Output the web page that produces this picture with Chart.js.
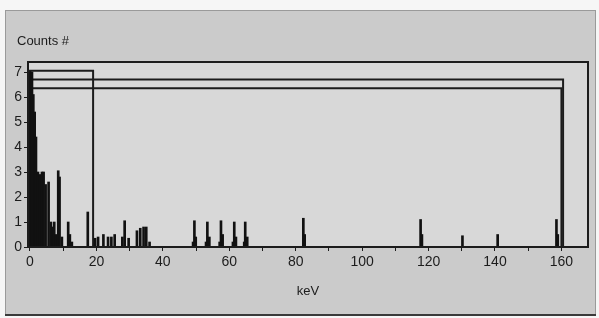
<!DOCTYPE html>
<html>
<head>
<meta charset="utf-8">
<script src="https://cdn.jsdelivr.net/npm/chart.js@4"></script>
<style>
  html, body { margin: 0; padding: 0; background: #f6f6f6; }
  #wrap { width: 599px; height: 318px; position: relative; }
</style>
</head>
<body>
<div id="wrap"><canvas id="canv"></canvas></div>
<script>
// spectrum lines (keV, counts)
const energies = [0.2, 0.6, 1.0, 1.4, 1.8, 2.4, 3.0, 3.6, 4.1, 4.7, 5.6, 6.3, 6.8, 7.3, 7.8, 8.5, 8.9, 9.6,
  11.5, 12.0, 12.6, 17.4, 19.6, 20.5, 22.1, 23.5, 24.5, 25.5, 27.8, 28.5, 29.7, 32.2, 33.2, 34.2, 35.0, 36.0,
  49.1, 49.5, 49.9, 53.0, 53.4, 54.0, 57.1, 57.5, 58.0, 61.1, 61.5, 62.0, 64.5, 64.8, 65.4,
  82.3, 82.7, 117.6, 118.0, 130.2, 140.8, 158.5, 158.9];
const counts = [7.0, 7.0, 6.1, 5.4, 4.4, 3.0, 2.9, 3.0, 3.0, 2.5, 2.6, 1.0, 0.8, 1.0, 0.5, 3.05, 2.8, 0.4,
  1.0, 0.5, 0.2, 1.4, 0.35, 0.4, 0.5, 0.4, 0.4, 0.5, 0.4, 1.05, 0.35, 0.65, 0.75, 0.8, 0.8, 0.2,
  0.2, 1.05, 0.4, 0.2, 1.0, 0.4, 0.2, 1.05, 0.5, 0.2, 1.0, 0.4, 0.2, 1.0, 0.4,
  1.15, 0.5, 1.1, 0.5, 0.45, 0.5, 1.1, 0.5];

// region-of-interest boxes
const roiSmallX = [0, 0, 19, 19];
const roiSmallY = [0, 7.05, 7.05, 0];
const roiWideX = [0, 0, 160.5, 160.5];
const roiWideY = [0, 6.7, 6.7, 0];
const roiInnerX = [0, 0, 160, 160];
const roiInnerY = [0, 6.35, 6.35, 0];

const xTicks = [0, 10, 20, 30, 40, 50, 60, 70, 80, 90, 100, 110, 120, 130, 140, 150, 160];
const yTicks = [0, 1, 2, 3, 4, 5, 6, 7];

const toPts = (xs, ys) => xs.map((x, i) => ({x: x, y: ys[i]}));
const ink = '#1c1c1c';
const font = 'Liberation Sans, Arial, sans-serif';

const panelPlugin = {
  id: 'panel',
  beforeDraw(chart) {
    const c = chart.ctx, a = chart.chartArea;
    c.save();
    c.fillStyle = '#f6f6f6';
    c.fillRect(0, 0, chart.width, chart.height);
    c.fillStyle = '#cbcbcb';
    c.fillRect(5, 10, 591, 306);
    c.strokeStyle = '#9a9a9a';
    c.lineWidth = 1;
    c.strokeRect(5.5, 10.5, 590, 305);
    c.fillStyle = '#3a3a3a';
    c.fillRect(5, 314, 591, 2);
    c.fillStyle = '#d8d8d8';
    c.fillRect(a.left, a.top, a.right - a.left, a.bottom - a.top);
    c.restore();
  },
  afterDraw(chart) {
    const c = chart.ctx, a = chart.chartArea;
    c.save();
    c.strokeStyle = ink;
    c.lineWidth = 2;
    c.strokeRect(a.left, a.top, a.right - a.left, a.bottom - a.top);
    c.fillStyle = ink;
    c.font = '13px ' + font;
    c.textBaseline = 'middle';
    c.fillText('Counts #', 17, 41);
    c.restore();
  }
};

const roi = (xs, ys) => ({
  type: 'line',
  data: toPts(xs, ys),
  borderColor: ink,
  borderWidth: 2,
  pointRadius: 0,
  tension: 0,
  fill: false
});

new Chart(document.getElementById('canv'), {
  type: 'bar',
  data: {
    datasets: [
      {
        type: 'bar',
        data: toPts(energies, counts),
        backgroundColor: '#111',
        barThickness: 2
      },
      roi(roiSmallX, roiSmallY),
      roi(roiWideX, roiWideY),
      roi(roiInnerX, roiInnerY)
    ]
  },
  options: {
    responsive: true,
    maintainAspectRatio: false,
    animation: false,
    layout: { padding: { top: 62, right: 11, left: 0, bottom: 0 } },
    plugins: { legend: { display: false }, tooltip: { enabled: false } },
    scales: {
      x: {
        type: 'linear',
        min: -0.6,
        max: 168,
        offset: false,
        afterBuildTicks: s => { s.ticks = xTicks.map(v => ({value: v})); },
        afterFit: s => { s.height = 71; },
        grid: { offset: false, drawOnChartArea: false, tickLength: 4, color: ink },
        border: { color: ink, width: 2 },
        ticks: {
          autoSkip: false, maxRotation: 0, padding: 3, color: ink,
          font: { family: font, size: 14 },
          callback: v => (v % 20 === 0 ? v : '')
        },
        title: {
          display: true, text: 'keV', color: ink,
          font: { family: font, size: 13 },
          padding: { top: 0, bottom: 19 }
        }
      },
      y: {
        min: 0,
        max: 7.4,
        afterBuildTicks: s => { s.ticks = yTicks.map(v => ({value: v})); },
        afterFit: s => { s.width = 28; },
        grid: { drawOnChartArea: false, tickLength: 4, color: ink },
        border: { color: ink, width: 2 },
        ticks: { padding: 2, color: ink, font: { family: font, size: 14 } }
      }
    }
  },
  plugins: [panelPlugin]
});
</script>
</body>
</html>
